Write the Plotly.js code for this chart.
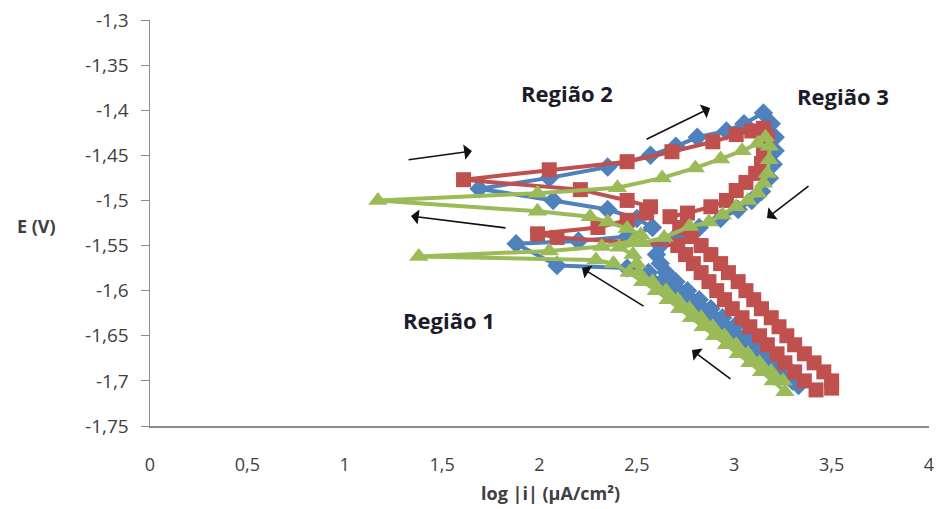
<!DOCTYPE html>
<html><head><meta charset="utf-8">
<script src="https://cdn.plot.ly/plotly-3.0.1.min.js"></script>
<style>html,body{margin:0;padding:0;background:#fff}#c{width:936px;height:509px}</style>
</head><body><div id="c"></div>
<script>
// Blue series (diamonds)
const blueX = [3.33,3.30,3.24,3.18,3.12,3.06,3.00,2.94,2.88,2.82,2.76,2.70,2.63,2.56,2.45,2.09,1.88,
  2.20,2.45,2.58,2.50,2.35,2.07,1.69,
  2.05,2.35,2.57,2.70,2.81,2.96,3.05,3.15,
  3.19,3.21,3.21,3.20,3.18,3.14,3.09,3.02,2.93,2.82,2.70,2.62,
  2.60,2.62,2.65,2.70,2.76,2.82,2.88,2.94,3.00,3.06,3.12,3.18,3.24,3.29];
const blueE = [-1.705,-1.70,-1.69,-1.68,-1.67,-1.66,-1.65,-1.64,-1.63,-1.62,-1.61,-1.60,-1.59,-1.58,-1.575,-1.572,-1.548,
  -1.545,-1.54,-1.53,-1.52,-1.51,-1.50,-1.487,
  -1.475,-1.463,-1.450,-1.440,-1.430,-1.423,-1.415,-1.403,
  -1.415,-1.43,-1.445,-1.46,-1.475,-1.49,-1.50,-1.51,-1.52,-1.53,-1.54,-1.55,
  -1.56,-1.57,-1.58,-1.59,-1.60,-1.61,-1.62,-1.63,-1.64,-1.65,-1.66,-1.67,-1.68,-1.69];

// Red series (squares)
const redX = [3.42,3.36,3.31,3.26,3.22,3.17,3.13,3.08,3.04,2.99,2.95,2.91,2.87,2.83,2.79,2.75,2.71,2.09,1.99,
  2.30,2.45,2.55,2.57,2.45,2.21,1.61,
  2.05,2.45,2.68,2.89,3.01,3.09,3.15,
  3.17,3.15,3.14,3.11,3.06,3.01,2.96,2.88,2.76,2.67,
  2.72,2.78,2.83,2.88,2.93,2.97,3.02,3.06,3.10,3.14,3.19,3.23,3.27,3.31,3.36,3.41,3.46,3.50,3.50];
const redE = [-1.71,-1.70,-1.69,-1.68,-1.67,-1.66,-1.65,-1.64,-1.63,-1.62,-1.61,-1.60,-1.59,-1.58,-1.57,-1.56,-1.55,-1.541,-1.537,
  -1.530,-1.522,-1.514,-1.507,-1.500,-1.488,-1.477,
  -1.466,-1.457,-1.446,-1.435,-1.427,-1.423,-1.420,
  -1.430,-1.448,-1.459,-1.470,-1.480,-1.489,-1.500,-1.507,-1.514,-1.518,
  -1.53,-1.54,-1.55,-1.56,-1.57,-1.58,-1.59,-1.60,-1.61,-1.62,-1.63,-1.64,-1.65,-1.66,-1.67,-1.68,-1.69,-1.70,-1.708];

// Green series (triangles)
const greenX = [3.26,3.20,3.14,3.08,3.02,2.96,2.90,2.84,2.78,2.72,2.66,2.60,2.53,2.46,2.38,2.29,1.38,
  2.05,2.32,2.48,2.52,2.45,2.35,2.26,1.99,1.17,
  1.99,2.40,2.63,2.80,2.93,3.04,3.12,3.16,
  3.18,3.18,3.17,3.15,3.12,3.07,3.01,2.94,2.87,2.77,2.64,2.53,2.41,
  2.48,2.50,2.51,2.58,2.65,2.71,2.77,2.83,2.89,2.95,3.01,3.07,3.13,3.19,3.25];
const greenE = [-1.712,-1.70,-1.69,-1.68,-1.67,-1.66,-1.65,-1.64,-1.63,-1.62,-1.61,-1.60,-1.59,-1.58,-1.57,-1.566,-1.562,
  -1.556,-1.551,-1.545,-1.538,-1.531,-1.524,-1.518,-1.512,-1.500,
  -1.492,-1.486,-1.475,-1.464,-1.454,-1.445,-1.437,-1.430,
  -1.440,-1.455,-1.470,-1.481,-1.492,-1.500,-1.507,-1.516,-1.524,-1.529,-1.541,-1.547,-1.552,
  -1.56,-1.57,-1.58,-1.59,-1.60,-1.61,-1.62,-1.63,-1.64,-1.65,-1.66,-1.67,-1.68,-1.69,-1.70];

const yTicks = [-1.3,-1.35,-1.4,-1.45,-1.5,-1.55,-1.6,-1.65,-1.7,-1.75];
const yTickText = ["-1,3","-1,35","-1,4","-1,45","-1,5","-1,55","-1,6","-1,65","-1,7","-1,75"];
const xTicks = [0,0.5,1,1.5,2,2.5,3,3.5,4];
const xTickText = ["0","0,5","1","1,5","2","2,5","3","3,5","4"];

const FONT = "'Open Sans', sans-serif";
function tr(x, y, color, symbol, size){
  return {x:x, y:y, type:'scatter', mode:'lines+markers', cliponaxis:false,
    line:{color:color, width:4}, marker:{color:color, symbol:symbol, size:size}, hoverinfo:'skip'};
}
const data = [
  tr(blueX, blueE, '#4F81BD', 'diamond', 15),
  tr(redX, redE, '#C0504D', 'square', 15),
  tr(greenX, greenE, '#9BBB59', 'triangle-up', 17)
];

function arrow(tx,ty,hx,hy){
  return {x:hx, y:hy, ax:tx, ay:ty, xref:'x', yref:'y', axref:'x', ayref:'y',
    showarrow:true, arrowhead:1, arrowsize:1.6, arrowwidth:1.6, arrowcolor:'#111', text:''};
}
const TXT = {family:FONT, size:22, color:'#1b1b2b'};
const annotations = [
  arrow(1.320,-1.4552,1.653,-1.4452),
  arrow(2.542,-1.4330,2.876,-1.3976),
  arrow(3.389,-1.4829,3.168,-1.5195),
  arrow(1.833,-1.5306,1.340,-1.5173),
  arrow(2.542,-1.6182,2.218,-1.5749),
  arrow(2.988,-1.6991,2.783,-1.6659),
  {x:2.141, y:-1.381, xref:'x', yref:'y', text:'<b>Região 2</b>', showarrow:false, font:TXT},
  {x:3.558, y:-1.384, xref:'x', yref:'y', text:'<b>Região 3</b>', showarrow:false, font:TXT},
  {x:1.535, y:-1.6326, xref:'x', yref:'y', text:'<b>Região 1</b>', showarrow:false, font:TXT},
  {x:(36-150)/779, y:(426-226)/406, xref:'paper', yref:'paper', xanchor:'center', yanchor:'middle',
    text:'<b>E (V)</b>', showarrow:false, font:{family:FONT, size:18, color:'#404040'}},
  {x:(550-150)/779, y:(426-493)/406, xref:'paper', yref:'paper', xanchor:'center', yanchor:'middle',
    text:'<b>log |i| (µA/cm²)</b>', showarrow:false, font:{family:FONT, size:18, color:'#404040'}}
];

const layout = {
  width:936, height:509,
  margin:{l:150, r:7, t:20, b:83},
  paper_bgcolor:'#fff', plot_bgcolor:'#fff',
  showlegend:false,
  font:{family:FONT, size:18, color:'#404040'},
  xaxis:{range:[0,4], tickvals:xTicks, ticktext:xTickText, showgrid:false, zeroline:false,
    showline:true, linecolor:'#8c8c8c', linewidth:1.5, ticks:'', ticklabelstandoff:22,
    tickfont:{family:FONT, size:18, color:'#404040'}},
  yaxis:{range:[-1.75,-1.3], tickvals:yTicks, ticktext:yTickText, showgrid:false, zeroline:false,
    showline:true, linecolor:'#8c8c8c', linewidth:1.5, ticks:'outside', ticklen:8, tickcolor:'#8c8c8c',
    ticklabelstandoff:8,
    tickfont:{family:FONT, size:19, color:'#404040'}},
  annotations:annotations
};
Plotly.newPlot('c', data, layout, {staticPlot:true, displayModeBar:false});
</script></body></html>
